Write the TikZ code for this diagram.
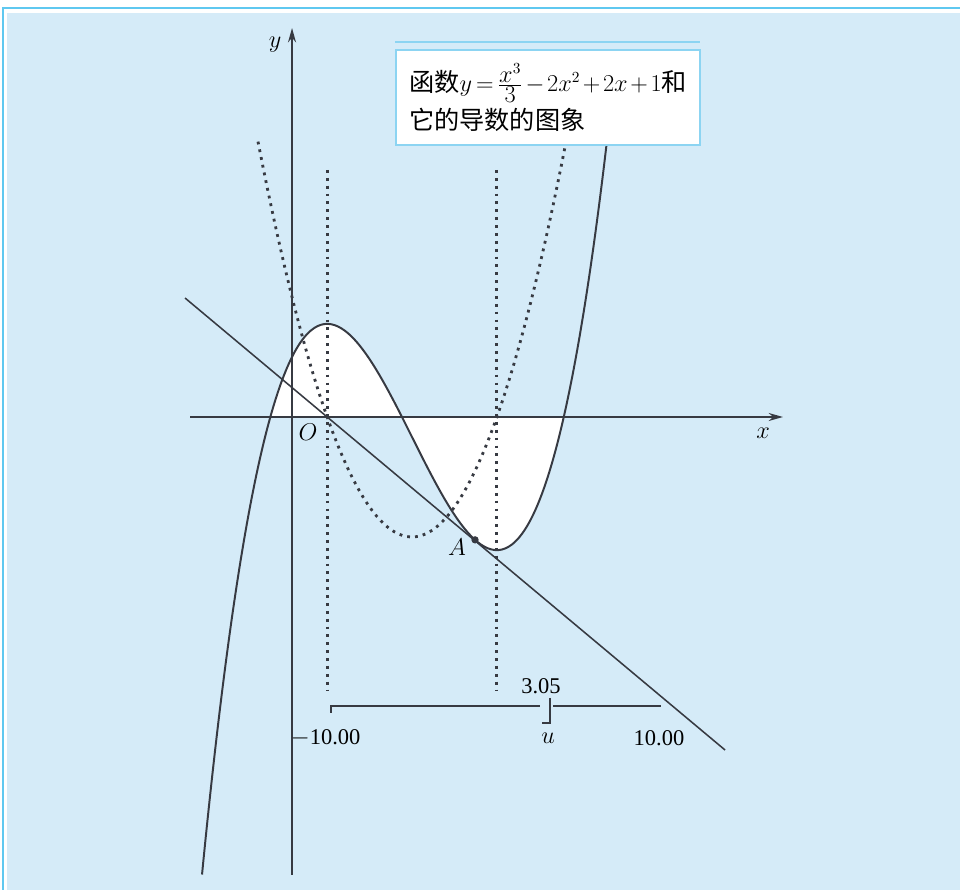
\documentclass[tikz,border=0pt]{standalone}
\usepackage{fontspec}
\setmainfont{Liberation Serif}
\newfontfamily\cjk[Scale=1.12]{Noto Sans CJK SC}
\usetikzlibrary{arrows.meta}
\definecolor{bgblue}{RGB}{213,235,248}
\definecolor{frameblue}{RGB}{95,200,240}
\definecolor{boxblue}{RGB}{140,212,242}
\definecolor{ink}{RGB}{55,58,66}

\begin{document}
\begin{tikzpicture}[x=1.5cm, y=1.5cm, font=\fontsize{16}{19}\selectfont, declare function={f(\x)=\x*\x*\x/3-2*\x*\x+2*\x+1; g(\x)=\x*\x-4*\x+2;}, axis/.style={ink, line width=1.3pt, -{Stealth[length=3.6mm, width=2mm]}}, curve/.style={ink, line width=1.4pt}, dotline/.style={ink, line width=2pt, dash pattern=on 2pt off 3.6pt}, slider/.style={ink, line width=1.2pt}]
\useasboundingbox (-4.867,-7.883) rectangle (11.133,6.95);
\fill[white] (-4.867,-7.883) rectangle (11.133,6.95);
\fill[bgblue] (-4.75,-7.883) rectangle (11.133,6.733);
\draw[frameblue, line width=1.1pt] (-4.817,-7.883) |- (11.133,6.817);
\fill[white] plot[domain=-0.359:4.532, samples=80, smooth] (\x,{f(\x)}) -- cycle;
\draw[axis] (-1.7,0) -- (8.183,0);
\draw[axis] (0,-7.633) -- (0,6.483);
\node (xlab) at (7.85,-0.27) {$x$};
\node (ylab) at (-0.283,6.2) {$y$};
\node (origin) at (0.267,-0.26) {$O$};
\foreach \c in {0.586,3.414} {\draw[dotline] (\c,4.117) -- (\c,-4.55);}
\draw[dotline] plot[domain=-0.567:4.567, samples=80, smooth] (\x,{g(\x)});
\draw[curve] plot[domain=-1.5:5.25, samples=120, smooth] (\x,{f(\x)});
\draw[ink, line width=1.1pt] (-1.783,1.983) -- (7.217,-5.55);
\coordinate (A) at (3.05,{f(3.05)});
\fill[ink] (A) circle (2.6pt);
\node (Alab) at (2.75,-2.17) {$A$};
\draw[slider] (0.65,-4.93) -- (0.65,-4.817) -- (4.133,-4.817);
\draw[slider] (4.35,-4.817) -- (6.15,-4.817);
\draw[slider] (4.3,-4.683) -- (4.3,-5.1) -- (4.167,-5.1);
\node (uval) at (4.15,-4.483) {3.05};
\node (ulab) at (4.267,-5.35) {$u$};
\node (umin) at (0.56,-5.35) {$-$10.00};
\node (umax) at (6.117,-5.35) {10.00};
\draw[boxblue, line width=0.8pt] (1.717,6.25) -- (6.8,6.25);
\node[draw=boxblue, line width=1.5pt, fill=white, minimum width=7.6cm, minimum height=2.375cm, inner ysep=2pt, align=left, font=\fontsize{16}{27}\selectfont] (caption) at (4.267,5.325) {{\cjk 函数}{\thickmuskip=3mu \medmuskip=2mu $y=\frac{\textstyle x^{3}}{\textstyle 3}-2x^{2}+2x+1$}{\cjk 和}\\{\cjk 它的导数的图象}};
\end{tikzpicture}
\end{document}
